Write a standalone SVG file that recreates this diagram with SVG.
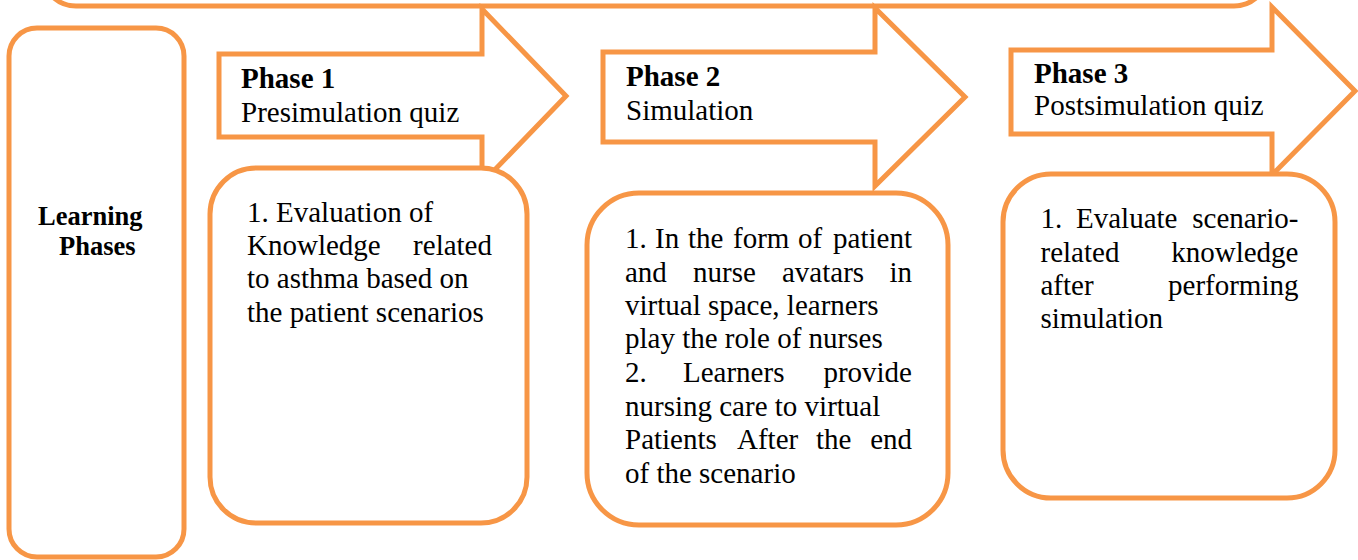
<svg xmlns="http://www.w3.org/2000/svg" width="1358" height="560" viewBox="0 0 1358 560">
<style>
.shape{fill:#ffffff;stroke:#F79646;stroke-width:5;stroke-linejoin:miter}
.box{fill:#ffffff;stroke:#F79646;stroke-width:5}
text{font-family:"Liberation Serif","Times New Roman",serif;fill:#000000}
.t{font-size:29px}
.b{font-size:29px;font-weight:bold}
.lb{font-size:26.5px;font-weight:bold}
.e{text-anchor:end}
</style>
<rect width="1358" height="560" fill="#ffffff"/>
<g id="top-frame">
<rect class="box" x="42" y="-70" width="1226" height="76" rx="34"/>
</g>
<g id="learning-phases">
<rect class="box" x="9" y="28" width="175" height="529" rx="28"/>
<text class="lb" x="38" y="225">Learning</text>
<text class="lb" x="59" y="255">Phases</text>
</g>
<g id="connectors">
<path id="arrow-phase1" class="shape" d="M219,54 H482 V9 L566,96 L482,183 V137 H219 Z"/>
<path id="arrow-phase2" class="shape" d="M603,52 H875 V8 L965,97 L875,186 V142 H603 Z"/>
<path id="arrow-phase3" class="shape" d="M1011,50 H1272 V7 L1355,91 L1272,175 V134 H1011 Z"/>
</g>
<g id="phase1-label">
<text class="b" x="241" y="88">Phase 1</text>
<text class="t" x="241" y="121.5">Presimulation quiz</text>
</g>
<g id="phase2-label">
<text class="b" x="626" y="86">Phase 2</text>
<text class="t" x="626" y="119.5">Simulation</text>
</g>
<g id="phase3-label">
<text class="b" x="1034" y="82.5">Phase 3</text>
<text class="t" x="1034" y="115">Postsimulation quiz</text>
</g>
<g id="box-phase1">
<rect class="box" x="210" y="168" width="317" height="355" rx="46"/>
<text class="t" x="247" y="221.5">1. Evaluation of</text>
<text class="t" x="247" y="255">Knowledge</text>
<text class="t e" x="492" y="255">related</text>
<text class="t" x="247" y="288.3">to asthma based on</text>
<text class="t" x="247" y="321.7">the patient scenarios</text>
</g>
<g id="box-phase2">
<rect class="box" x="587" y="193" width="361" height="332" rx="52"/>
<text class="t" y="248.3"><tspan x="625">1.</tspan><tspan x="655">In</tspan><tspan x="688">the</tspan><tspan x="733">form</tspan><tspan x="798">of</tspan><tspan x="912" text-anchor="end">patient</tspan></text>
<text class="t" y="281.7"><tspan x="625">and</tspan><tspan x="693">nurse</tspan><tspan x="782">avatars</tspan><tspan x="912" text-anchor="end">in</tspan></text>
<text class="t" x="625" y="315">virtual space, learners</text>
<text class="t" x="625" y="348.3">play the role of nurses</text>
<text class="t" y="382"><tspan x="625">2.</tspan><tspan x="683">Learners</tspan><tspan x="912" text-anchor="end">provide</tspan></text>
<text class="t" x="625" y="415.5">nursing care to virtual</text>
<text class="t" y="449"><tspan x="625">Patients</tspan><tspan x="737">After</tspan><tspan x="816">the</tspan><tspan x="912" text-anchor="end">end</tspan></text>
<text class="t" x="625" y="482.5">of the scenario</text>
</g>
<g id="box-phase3">
<rect class="box" x="1003" y="174" width="332" height="324" rx="48"/>
<text class="t" y="228.3"><tspan x="1040.5">1.</tspan><tspan x="1076">Evaluate</tspan><tspan x="1298.5" text-anchor="end">scenario-</tspan></text>
<text class="t" y="261.7"><tspan x="1040.5">related</tspan><tspan x="1298.5" text-anchor="end">knowledge</tspan></text>
<text class="t" y="295"><tspan x="1040.5">after</tspan><tspan x="1298.5" text-anchor="end">performing</tspan></text>
<text class="t" x="1040.5" y="328.3">simulation</text>
</g>
</svg>
